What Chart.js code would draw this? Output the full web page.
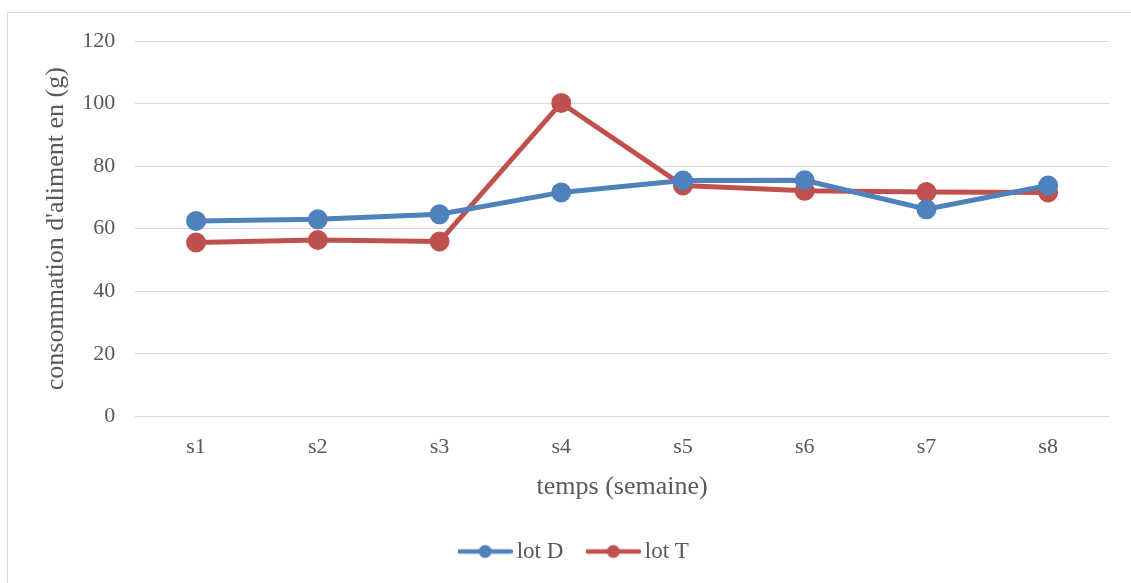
<!DOCTYPE html>
<html>
<head>
<meta charset="utf-8">
<script src="https://cdn.jsdelivr.net/npm/chart.js@4"></script>
<style>
  html, body { margin: 0; padding: 0; background: #fff; }
  #wrap { position: relative; width: 1131px; height: 583px; }
  #frame { position: absolute; left: 7px; top: 12px; width: 1140px; height: 600px; border: 1px solid #d9d9d9; box-sizing: border-box; }
  canvas { position: absolute; left: 0; top: 0; }
</style>
</head>
<body>
<div id="wrap">
  <div id="frame"></div>
  <canvas id="chart1" width="1131" height="583"></canvas>
</div>
<script>
const semaines = ['s1', 's2', 's3', 's4', 's5', 's6', 's7', 's8'];
const lotD = [62.5, 63.0, 64.6, 71.6, 75.4, 75.5, 66.2, 73.8];
const lotT = [55.6, 56.4, 55.9, 100.2, 73.8, 72.1, 71.7, 71.6];
const yTicks = [0, 20, 40, 60, 80, 100, 120];

const blue = '#4f81bd';
const red = '#c0504d';

// petit trait + rond pour la légende
function legendMark(color) {
    const c = document.createElement('canvas');
    c.width = 55; c.height = 16;
    const g = c.getContext('2d');
    g.strokeStyle = color; g.lineWidth = 4.5; g.lineCap = 'round';
    g.beginPath(); g.moveTo(2, 8); g.lineTo(53, 8); g.stroke();
    g.fillStyle = color;
    g.beginPath(); g.arc(27.5, 8, 6.5, 0, Math.PI * 2); g.fill();
    return c;
}
const marks = [legendMark(blue), legendMark(red)];

// décale un peu la légende vers la droite
const shiftLegend = {
    id: 'shiftLegend',
    afterLayout(chart) {
        chart.legend.left += 4;
        chart.legend.right += 4;
    }
};

const ctx1 = document.getElementById('chart1').getContext('2d');
new Chart(ctx1, {
    type: 'line',
    data: {
        labels: semaines,
        datasets: [
            {label: 'lot D', data: lotD, borderColor: blue, backgroundColor: blue, borderWidth: 5, pointRadius: 7.5, pointHoverRadius: 7.5},
            {label: 'lot T', data: lotT, borderColor: red, backgroundColor: red, borderWidth: 5, pointRadius: 7.5, pointHoverRadius: 7.5}
        ]
    },
    plugins: [shiftLegend],
    options: {
        responsive: false,
        animation: false,
        layout: {padding: {left: 37, top: 41, right: 22, bottom: 10}},
        plugins: {
            tooltip: {enabled: false},
            legend: {
                position: 'bottom',
                labels: {
                    usePointStyle: true,
                    pointStyleWidth: 40,
                    padding: 30,
                    color: '#595959',
                    font: {family: 'Liberation Serif', size: 23},
                    generateLabels: (chart) => Chart.defaults.plugins.legend.labels.generateLabels(chart)
                        .map((item, i) => Object.assign(item, {pointStyle: marks[i]}))
                }
            }
        },
        scales: {
            x: {
                offset: true,
                grid: {display: false, drawTicks: false},
                border: {display: false},
                ticks: {color: '#595959', font: {family: 'Liberation Serif', size: 22}, padding: 18},
                title: {display: true, text: 'temps (semaine)', color: '#595959', font: {family: 'Liberation Serif', size: 26}, padding: {top: -7, bottom: 7}}
            },
            y: {
                min: 0,
                max: 120,
                afterBuildTicks: (axis) => { axis.ticks = yTicks.map(v => ({value: v})); },
                grid: {color: '#d9d9d9', lineWidth: 1, drawTicks: false},
                border: {display: false},
                ticks: {color: '#595959', font: {family: 'Liberation Serif', size: 22}, padding: 20},
                title: {display: true, text: "consommation d'aliment en (g)", color: '#595959', font: {family: 'Liberation Serif', size: 26}, padding: {top: 4, bottom: -10}}
            }
        }
    }
});
</script>
</body>
</html>
